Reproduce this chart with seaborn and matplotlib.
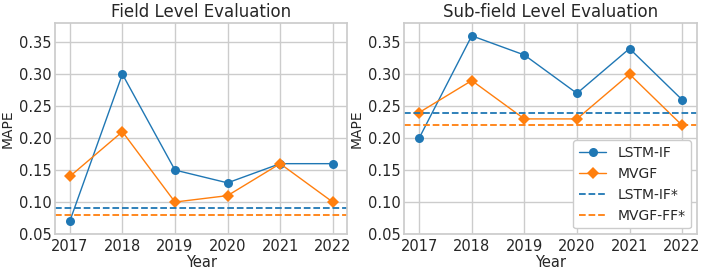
import pandas as pd
import seaborn as sns
import matplotlib.pyplot as plt

years = [2017, 2018, 2019, 2020, 2021, 2022]

field_lstm = [0.07, 0.30, 0.15, 0.13, 0.16, 0.16]
field_mvgf = [0.14, 0.21, 0.10, 0.11, 0.16, 0.10]
field_lstm_star = 0.09
field_mvgf_star = 0.08

sub_lstm = [0.20, 0.36, 0.33, 0.27, 0.34, 0.26]
sub_mvgf = [0.24, 0.29, 0.23, 0.23, 0.30, 0.22]
sub_lstm_star = 0.24
sub_mvgf_star = 0.22

titles = ["Field Level Evaluation", "Sub-field Level Evaluation"]

sns.set_theme(style="whitegrid")
plt.rcParams['font.family'] = ['DejaVu Sans']

blue, orange = sns.color_palette("tab10")[:2]

fig, axes = plt.subplots(1, 2, figsize=(7.06, 2.74), dpi=100)
plt.subplots_adjust(left=0.078, right=0.987, top=0.916, bottom=0.146, wspace=0.195)

panels = [(field_lstm, field_mvgf, field_lstm_star, field_mvgf_star),
          (sub_lstm, sub_mvgf, sub_lstm_star, sub_mvgf_star)]

for ax, title, (lstm, mvgf, lstm_s, mvgf_s) in zip(axes, titles, panels):
    df = pd.DataFrame({"Year": years, "LSTM-IF": lstm, "MVGF": mvgf})
    sns.lineplot(data=df, x="Year", y="LSTM-IF", ax=ax, color=blue, marker="o",
                 markersize=6.5, markeredgewidth=0, linewidth=1, label="LSTM-IF")
    sns.lineplot(data=df, x="Year", y="MVGF", ax=ax, color=orange, marker="D",
                 markersize=6.5, markeredgewidth=0, linewidth=1, label="MVGF")
    ax.axhline(lstm_s, color=blue, linestyle="--", linewidth=1.3, label="LSTM-IF*")
    ax.axhline(mvgf_s, color=orange, linestyle="--", linewidth=1.3, label="MVGF-FF*")
    ax.set_title(title, fontsize=12, pad=4)
    ax.set_xlabel("Year", fontsize=10.5, labelpad=1)
    ax.set_ylabel("MAPE", fontsize=10, labelpad=3)
    ax.set_xticks(years)
    ax.set_xlim(2016.72, 2022.28)
    ax.set_ylim(0.05, 0.38)
    ax.set_yticks([0.05, 0.10, 0.15, 0.20, 0.25, 0.30, 0.35])
    ax.tick_params(axis="x", labelsize=10.5, length=0, pad=3.5)
    ax.tick_params(axis="y", labelsize=10.5, length=0, pad=2.5)

axes[0].get_legend().remove()
axes[1].legend(loc="lower right", fontsize=10, framealpha=1,
               borderaxespad=0.4, handlelength=2.0)

fig.savefig("out.png", dpi=100)
